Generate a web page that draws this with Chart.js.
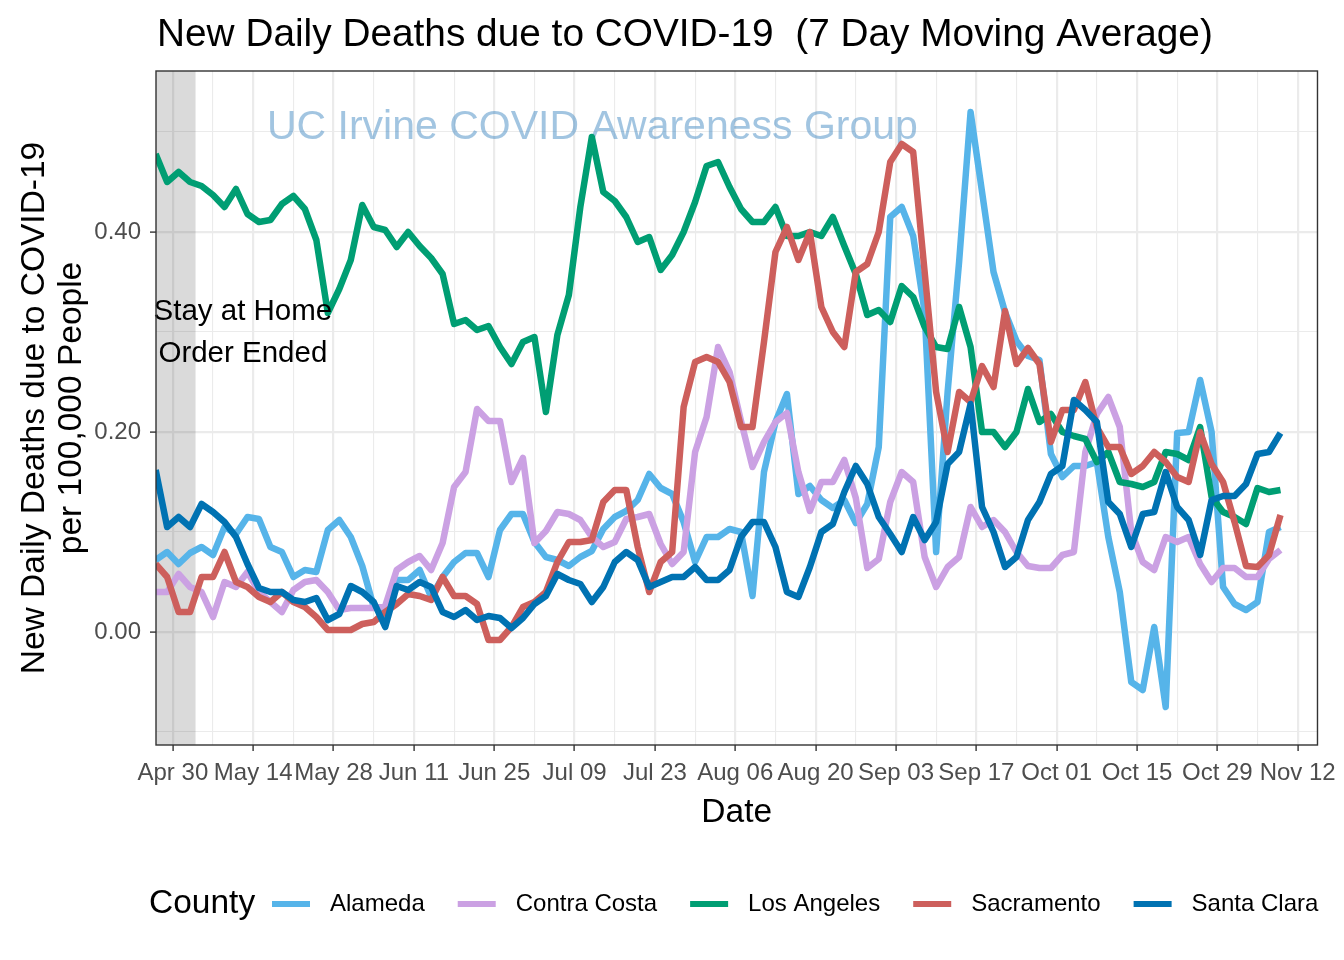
<!DOCTYPE html>
<html>
<head>
<meta charset="utf-8">
<script src="https://cdn.jsdelivr.net/npm/chart.js@4.4.1/dist/chart.umd.min.js"></script>
<style>
  html, body { margin: 0; padding: 0; background: #fff; }
  #wrap { width: 1344px; height: 960px; }
</style>
</head>
<body>
<div id="wrap"><canvas id="chart" width="1344" height="960"></canvas></div>
<script>
// days counted from Apr 30 2020 (7 day moving average, sampled every other day)
const days = [-3,-1,1,3,5,7,9,11,13,15,17,19,21,23,25,27,29,31,33,35,37,39,41,43,45,47,49,51,53,55,
  57,59,61,63,65,67,69,71,73,75,77,79,81,83,85,87,89,91,93,95,97,99,101,103,105,107,109,111,113,115,
  117,119,121,123,125,127,129,131,133,135,137,139,141,143,145,147,149,151,153,155,157,159,161,163,165,167,169,171,173,175,
  177,179,181,183,185,187,189,191,193];

const counties = ['Alameda', 'Contra Costa', 'Los Angeles', 'Sacramento', 'Santa Clara'];
const countyColors = ['#56B4E9', '#CBA1E3', '#009E73', '#CD5F5C', '#0072B2'];

const alameda = [.072,.080,.068,.079,.085,.077,.105,.098,.115,.113,
  .085,.080,.055,.062,.060,.102,.112,.095,.066,.025,
  .020,.052,.052,.062,.035,.055,.070,.079,.079,.055,
  .102,.118,.118,.090,.075,.072,.066,.075,.081,.103,
  .115,.121,.132,.158,.144,.138,.110,.070,.095,.095,
  .103,.100,.036,.160,.210,.238,.138,.146,.132,.124,
  .132,.109,.128,.185,.415,.425,.396,.320,.080,.240,
  .370,.520,.440,.360,.320,.291,.276,.272,.178,.155,
  .166,.166,.170,.095,.040,-.050,-.058,.005,-.075,.199,
  .200,.252,.200,.045,.028,.022,.030,.100,.105];

const contraCosta = [.040,.040,.058,.045,.040,.015,.050,.045,.060,.040,
  .030,.020,.042,.050,.052,.040,.022,.024,.024,.024,
  .026,.062,.070,.076,.062,.089,.145,.160,.223,.211,
  .211,.150,.174,.089,.101,.120,.118,.112,.095,.085,
  .090,.113,.115,.118,.088,.068,.080,.180,.215,.285,
  .260,.211,.165,.190,.210,.219,.160,.121,.150,.150,
  .172,.134,.064,.073,.130,.160,.150,.075,.045,.065,
  .075,.125,.105,.112,.100,.080,.066,.064,.064,.077,
  .080,.180,.218,.235,.205,.100,.070,.062,.095,.090,
  .095,.068,.050,.064,.064,.055,.055,.073,.082];

const losAngeles = [.478,.450,.460,.450,.446,.437,.425,.443,.418,.410,
  .412,.428,.436,.423,.392,.319,.343,.372,.427,.405,
  .402,.385,.400,.386,.374,.358,.308,.312,.302,.306,
  .285,.268,.290,.295,.220,.297,.337,.425,.495,.440,
  .431,.415,.390,.395,.362,.377,.400,.430,.466,.470,
  .445,.423,.410,.410,.425,.396,.396,.400,.396,.415,
  .386,.358,.317,.322,.310,.346,.335,.305,.285,.283,
  .325,.285,.200,.200,.185,.200,.243,.210,.218,.200,
  .196,.193,.170,.180,.150,.148,.145,.150,.180,.178,
  .172,.205,.135,.120,.115,.108,.144,.140,.142];

const sacramento = [.068,.055,.020,.020,.055,.055,.080,.050,.045,.035,
  .030,.040,.030,.025,.015,.002,.002,.002,.008,.010,
  .020,.028,.038,.036,.032,.055,.036,.036,.028,-.008,
  -.008,.005,.025,.030,.040,.070,.090,.090,.092,.130,
  .142,.142,.085,.040,.070,.080,.225,.270,.275,.270,
  .250,.205,.205,.290,.380,.405,.372,.400,.325,.300,
  .285,.360,.368,.400,.470,.488,.480,.360,.240,.180,
  .240,.230,.266,.245,.321,.268,.284,.268,.190,.222,
  .222,.250,.205,.185,.185,.158,.166,.180,.170,.155,
  .150,.200,.168,.150,.110,.066,.065,.077,.117];

const santaClara = [.162,.105,.115,.105,.128,.120,.110,.095,.068,.044,
  .040,.040,.032,.030,.034,.012,.018,.046,.040,.030,
  .005,.046,.042,.050,.045,.020,.015,.022,.012,.016,
  .014,.004,.014,.028,.036,.058,.052,.048,.030,.045,
  .070,.080,.072,.045,.050,.055,.055,.065,.052,.052,
  .062,.095,.110,.110,.085,.040,.035,.065,.100,.108,
  .140,.166,.148,.115,.098,.080,.115,.092,.110,.168,
  .180,.228,.125,.100,.065,.075,.112,.130,.158,.166,
  .232,.222,.210,.130,.118,.085,.118,.120,.160,.125,
  .112,.077,.132,.136,.136,.148,.178,.180,.199];

const seriesValues = [alameda, contraCosta, losAngeles, sacramento, santaClara];

// axis ticks
const xMajorDays = [0,14,28,42,56,70,84,98,112,126,140,154,168,182,196];
const xTickLabels = ['Apr 30','May 14','May 28','Jun 11','Jun 25','Jul 09','Jul 23','Aug 06',
  'Aug 20','Sep 03','Sep 17','Oct 01','Oct 15','Oct 29','Nov 12'];
const xMinorDays = [7,21,35,49,63,77,91,105,119,133,147,161,175,189];
const yMajorValues = [0, 0.2, 0.4];
const yTickLabels = ['0.00', '0.20', '0.40'];
const yMinorValues = [-0.1, 0.1, 0.3, 0.5];

const FONT = '"Liberation Sans", Arial, Helvetica, sans-serif';
const shadeEnd = 3.95; // stay at home order ended

const datasets = counties.map((name, i) => ({
  label: name,
  data: days.map((d, j) => ({ x: d, y: seriesValues[i][j] })),
  borderColor: countyColors[i],
  backgroundColor: countyColors[i],
  borderWidth: 6.5,
  pointRadius: 0,
  tension: 0,
  borderJoinStyle: 'round',
  fill: false,
  order: counties.length - i
}));

const decor = {
  id: 'decor',
  beforeDraw(chart) {
    const ctx = chart.ctx;
    ctx.save();
    ctx.fillStyle = '#fff';
    ctx.fillRect(0, 0, chart.width, chart.height);
    ctx.restore();
  },
  beforeDatasetsDraw(chart) {
    const { ctx, chartArea: a, scales: { x, y } } = chart;
    ctx.save();
    const x1 = x.getPixelForValue(shadeEnd);
    ctx.fillStyle = 'rgba(0,0,0,0.145)';
    ctx.fillRect(a.left, a.top, x1 - a.left, a.bottom - a.top);

    ctx.font = '41px ' + FONT;
    ctx.fillStyle = 'rgba(70,140,195,0.5)';
    ctx.textAlign = 'center';
    ctx.textBaseline = 'middle';
    ctx.fillText('UC Irvine COVID Awareness Group', x.getPixelForValue(73.1), y.getPixelForValue(0.504));
    ctx.restore();
  },
  afterDraw(chart) {
    const { ctx, chartArea: a, scales: { x, y } } = chart;
    ctx.save();
    // annotation
    ctx.fillStyle = '#000';
    ctx.font = '29.5px ' + FONT;
    ctx.textAlign = 'center';
    ctx.textBaseline = 'middle';
    ctx.fillText('Stay at Home', x.getPixelForValue(12.2), y.getPixelForValue(0.32));
    ctx.fillText('Order Ended', x.getPixelForValue(12.2), y.getPixelForValue(0.278));

    // panel border
    ctx.strokeStyle = '#333333';
    ctx.lineWidth = 1.4;
    ctx.strokeRect(a.left, a.top, a.right - a.left, a.bottom - a.top);

    // title
    ctx.fillStyle = '#000';
    ctx.textAlign = 'left';
    ctx.textBaseline = 'alphabetic';
    ctx.font = '38.8px ' + FONT;
    ctx.fillText('New Daily Deaths due to COVID-19  (7 Day Moving Average)', 157, 46);

    // axis titles
    ctx.font = '33.5px ' + FONT;
    ctx.textAlign = 'center';
    ctx.fillText('Date', (a.left + a.right) / 2, 822);
    const cy = (a.top + a.bottom) / 2;
    ctx.save();
    ctx.translate(44, cy);
    ctx.rotate(-Math.PI / 2);
    ctx.fillText('New Daily Deaths due to COVID-19', 0, 0);
    ctx.restore();
    ctx.save();
    ctx.translate(81, cy);
    ctx.rotate(-Math.PI / 2);
    ctx.fillText('per 100,000 People', 0, 0);
    ctx.restore();

    // legend
    const ly = 904;
    ctx.textAlign = 'left';
    ctx.textBaseline = 'middle';
    ctx.font = '33.5px ' + FONT;
    ctx.fillText('County', 149, ly);
    ctx.font = '24px ' + FONT;
    let sx = 272;
    counties.forEach((name, i) => {
      ctx.strokeStyle = countyColors[i];
      ctx.lineWidth = 6;
      ctx.beginPath();
      ctx.moveTo(sx, ly);
      ctx.lineTo(sx + 38, ly);
      ctx.stroke();
      ctx.fillStyle = '#000';
      ctx.fillText(name, sx + 58, ly);
      sx = sx + 58 + ctx.measureText(name).width + 33;
    });
    ctx.restore();
  }
};

const isMajorX = v => xMajorDays.includes(v);
const isMajorY = v => yMajorValues.some(m => Math.abs(m - v) < 1e-9);

new Chart(document.getElementById('chart'), {
  type: 'line',
  data: { datasets },
  options: {
    responsive: false,
    animation: false,
    devicePixelRatio: 1,
    layout: { padding: { top: 71, right: 17, bottom: 155, left: 0 } },
    plugins: { legend: { display: false }, title: { display: false }, tooltip: { enabled: false } },
    scales: {
      x: {
        type: 'linear',
        min: -2.94,
        max: 199.45,
        afterBuildTicks: s => { s.ticks = xMajorDays.concat(xMinorDays).sort((p, q) => p - q).map(v => ({ value: v })); },
        afterFit: s => { s.height = 60; },
        border: { display: false },
        grid: {
          color: '#EBEBEB',
          lineWidth: c => (c.tick && isMajorX(c.tick.value)) ? 2.2 : 1.1,
          tickColor: c => (c.tick && isMajorX(c.tick.value)) ? '#333333' : 'rgba(0,0,0,0)',
          tickLength: 6,
          tickWidth: 1.4
        },
        ticks: {
          autoSkip: false,
          maxRotation: 0,
          minRotation: 0,
          padding: 8,
          color: '#4D4D4D',
          font: { family: FONT, size: 24 },
          callback: v => { const i = xMajorDays.indexOf(v); return i >= 0 ? xTickLabels[i] : ''; }
        }
      },
      y: {
        type: 'linear',
        min: -0.113,
        max: 0.561,
        afterBuildTicks: s => { s.ticks = yMinorValues.concat(yMajorValues).sort((p, q) => p - q).map(v => ({ value: v })); },
        afterFit: s => { s.width = 156; },
        border: { display: false },
        grid: {
          color: '#EBEBEB',
          lineWidth: c => (c.tick && isMajorY(c.tick.value)) ? 2.2 : 1.1,
          tickColor: c => (c.tick && isMajorY(c.tick.value)) ? '#333333' : 'rgba(0,0,0,0)',
          tickLength: 6,
          tickWidth: 1.4
        },
        ticks: {
          padding: 9,
          color: '#4D4D4D',
          font: { family: FONT, size: 24 },
          callback: v => { const i = yMajorValues.findIndex(m => Math.abs(m - v) < 1e-9); return i >= 0 ? yTickLabels[i] : ''; }
        }
      }
    }
  },
  plugins: [decor]
});
</script>
</body>
</html>
